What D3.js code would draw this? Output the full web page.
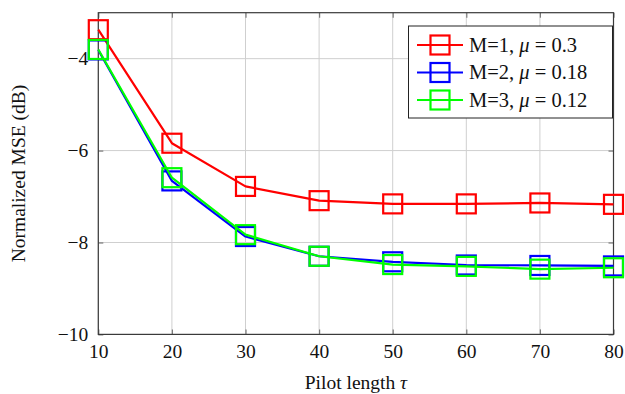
<!DOCTYPE html>
<html><head><meta charset="utf-8">
<script src="https://cdn.jsdelivr.net/npm/d3@7"></script>
<style>body{margin:0;background:#fff}svg{display:block}svg text{font-family:'Liberation Serif'}</style>
</head><body><svg id="c" width="625" height="394"></svg>
<script>
const pilot = [10,20,30,40,50,60,70,80];
const mse_M1 = [-3.37,-5.84,-6.78,-7.09,-7.16,-7.16,-7.14,-7.17];
const mse_M2 = [-3.81,-6.66,-7.87,-8.30,-8.42,-8.49,-8.50,-8.51];
const mse_M3 = [-3.80,-6.59,-7.83,-8.30,-8.48,-8.52,-8.58,-8.55];
const xTicks = [10,20,30,40,50,60,70,80];
const yTicks = [-10,-8,-6,-4];
const seriesNames = ["M=1", "M=2", "M=3"];
const muVals = ["0.3","0.18","0.12"];
const colors = ["#ff0000","#0000ff","#00ff00"];

const FONT = "'Liberation Serif'";
const FS = 19.5;
const svg = d3.select("#c");
const L=98.3, R=613.5, T=12.7, B=334.4;
const x = d3.scaleLinear().domain([10,80]).range([L,R]);
const y = d3.scaleLinear().domain([-10,-3]).range([B,T]);
const fmt = d => (d<0?"\u2212":"")+Math.abs(d);

// grid
const g = svg.append("g");
g.selectAll(".gx").data(xTicks).join("line").attr("x1",d=>x(d)).attr("x2",d=>x(d)).attr("y1",T).attr("y2",B).attr("stroke","#cfcfcf").attr("stroke-width",1);
g.selectAll(".gy").data(yTicks).join("line").attr("y1",d=>y(d)).attr("y2",d=>y(d)).attr("x1",L).attr("x2",R).attr("stroke","#cfcfcf").attr("stroke-width",1);

// axes with inside ticks
const ax = svg.append("g");
const tk = 5;
const axes = [
  ax.append("g").attr("transform",`translate(0,${B})`).call(d3.axisBottom(x).tickValues(xTicks).tickSizeInner(-tk).tickSizeOuter(0).tickPadding(10).tickFormat(d=>d)),
  ax.append("g").attr("transform",`translate(0,${T})`).call(d3.axisTop(x).tickValues(xTicks).tickSizeInner(-tk).tickSizeOuter(0).tickFormat("")),
  ax.append("g").attr("transform",`translate(${L},0)`).call(d3.axisLeft(y).tickValues(yTicks).tickSizeInner(-tk).tickSizeOuter(0).tickPadding(10).tickFormat(fmt)),
  ax.append("g").attr("transform",`translate(${R},0)`).call(d3.axisRight(y).tickValues(yTicks).tickSizeInner(-tk).tickSizeOuter(0).tickFormat(""))
];
axes.forEach(a=>a.attr("font-family","Liberation Serif").attr("font-size",FS));
ax.selectAll(".domain").remove();
ax.selectAll(".tick line").attr("stroke","#7a7a7a").attr("stroke-width",1.2);
ax.selectAll(".tick text").attr("font-size",FS).attr("fill","#111").style("font-family",FONT);
svg.append("rect").attr("x",L).attr("y",T).attr("width",R-L).attr("height",B-T).attr("fill","none").attr("stroke","#3a3a3a").attr("stroke-width",1.2);

// series
const all = [mse_M1, mse_M2, mse_M3];
const line = d3.line().x((d,i)=>x(pilot[i])).y(d=>y(d));
const ms = 19;
all.forEach((vals,k)=>{
  const s = svg.append("g");
  s.append("path").datum(vals).attr("d",line).attr("fill","none").attr("stroke",colors[k]).attr("stroke-width",2.2).attr("stroke-linejoin","round");
  s.selectAll("rect").data(vals).join("rect").attr("x",(d,i)=>x(pilot[i])-ms/2).attr("y",d=>y(d)-ms/2).attr("width",ms).attr("height",ms).attr("fill","none").attr("stroke",colors[k]).attr("stroke-width",2.2);
});

// labels
svg.append("text").attr("x",(L+R)/2).attr("y",389).attr("text-anchor","middle").attr("font-size",FS).attr("fill","#111").style("font-family",FONT)
  .html('Pilot length <tspan font-style="italic">\u03c4</tspan>');
svg.append("text").attr("transform",`translate(25,${(T+B)/2}) rotate(-90)`).attr("text-anchor","middle").attr("font-size",FS).attr("fill","#111").style("font-family",FONT).text("Normalized MSE (dB)");

// legend
const lg = svg.append("g");
lg.append("rect").attr("x",408.5).attr("y",26).attr("width",204).attr("height",92).attr("fill","#fff").attr("stroke","#222").attr("stroke-width",1);
seriesNames.forEach((nm,k)=>{
  const yy = 45 + k*27.5;
  lg.append("line").attr("x1",417).attr("x2",463).attr("y1",yy).attr("y2",yy).attr("stroke",colors[k]).attr("stroke-width",2.2);
  lg.append("rect").attr("x",440-ms/2).attr("y",yy-ms/2).attr("width",ms).attr("height",ms).attr("fill","none").attr("stroke",colors[k]).attr("stroke-width",2.2);
  lg.append("text").attr("x",469).attr("y",yy+6.5).attr("font-size",20.5).attr("fill","#111").style("font-family",FONT)
    .html(`${nm}, <tspan font-style="italic">\u03bc</tspan> = ${muVals[k]}`);
});
</script></body></html>
